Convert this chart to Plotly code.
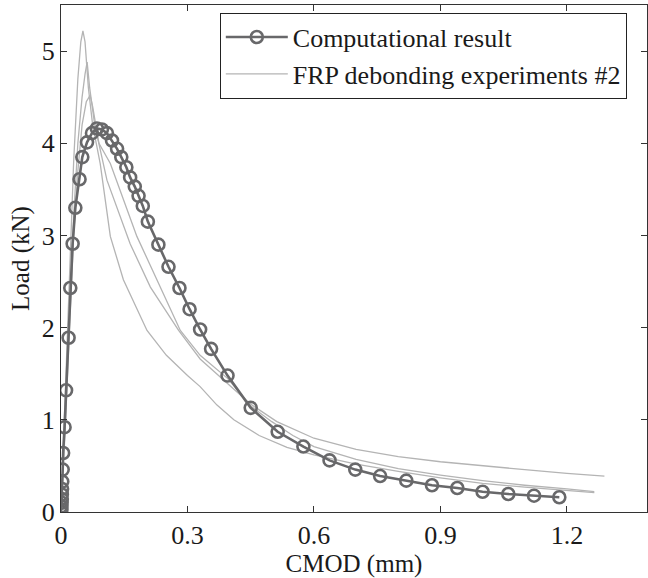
import plotly.graph_objects as go

# Computational result (CMOD mm, Load kN)
comp_x = [0.0, 0.001, 0.001, 0.0015, 0.002, 0.002, 0.0025, 0.003, 0.004, 0.005, 0.0085, 0.012, 0.018,
          0.022, 0.0276, 0.034, 0.044, 0.0505, 0.0617, 0.0735, 0.085, 0.097, 0.109, 0.121, 0.133, 0.143,
          0.155, 0.164, 0.175, 0.184, 0.194, 0.206, 0.231, 0.255, 0.281, 0.305, 0.330, 0.356, 0.395,
          0.450, 0.514, 0.575, 0.637, 0.698, 0.757, 0.819, 0.880, 0.940, 1.000, 1.061, 1.122, 1.182]
comp_y = [0.0, 0.03, 0.06, 0.10, 0.14, 0.19, 0.25, 0.33, 0.46, 0.64, 0.92, 1.32, 1.89,
          2.43, 2.91, 3.30, 3.61, 3.85, 4.01, 4.11, 4.16, 4.15, 4.11, 4.03, 3.94, 3.85,
          3.74, 3.63, 3.53, 3.43, 3.32, 3.15, 2.90, 2.66, 2.43, 2.20, 1.98, 1.77, 1.48,
          1.13, 0.87, 0.71, 0.56, 0.46, 0.39, 0.34, 0.29, 0.26, 0.22, 0.195, 0.177, 0.16]

# FRP debonding experiments #2 (three specimens)
expA_x = [0.0, 0.01, 0.02, 0.03, 0.04, 0.047, 0.052, 0.057, 0.065, 0.075, 0.093, 0.117, 0.148, 0.204,
          0.25, 0.30, 0.33, 0.37, 0.41, 0.47, 0.536, 0.6, 0.7, 0.8, 0.9, 1.0, 1.1, 1.2, 1.265]
expA_y = [0.0, 1.2, 2.6, 3.8, 4.7, 5.1, 5.22, 5.1, 4.6, 4.2, 3.78, 2.99, 2.52, 1.97,
          1.70, 1.48, 1.36, 1.16, 1.00, 0.83, 0.70, 0.62, 0.52, 0.44, 0.37, 0.31, 0.27, 0.235, 0.21]

expB_x = [0.0, 0.01, 0.02, 0.03, 0.04, 0.05, 0.057, 0.062, 0.068, 0.08, 0.109, 0.164, 0.212, 0.279,
          0.33, 0.395, 0.45, 0.512, 0.6, 0.7, 0.8, 0.9, 1.0, 1.1, 1.2, 1.289]
expB_y = [0.0, 1.0, 2.2, 3.2, 4.0, 4.5, 4.75, 4.88, 4.6, 4.2, 3.60, 2.91, 2.44, 1.97,
          1.66, 1.40, 1.17, 0.98, 0.80, 0.68, 0.60, 0.545, 0.50, 0.46, 0.42, 0.39]

expC_x = [0.0, 0.01, 0.02, 0.03, 0.04, 0.05, 0.06, 0.069, 0.075, 0.09, 0.117, 0.18, 0.283,
          0.33, 0.395, 0.45, 0.5, 0.55, 0.6, 0.7, 0.8, 0.9, 1.0, 1.1, 1.2, 1.265]
expC_y = [0.0, 0.9, 2.0, 3.0, 3.7, 4.2, 4.45, 4.52, 4.4, 4.0, 3.78, 2.99, 1.97,
          1.70, 1.45, 1.15, 0.98, 0.83, 0.71, 0.57, 0.47, 0.40, 0.34, 0.29, 0.25, 0.22]

x_ticks = [0, 0.3, 0.6, 0.9, 1.2]
x_ticktext = ["0", "0.3", "0.6", "0.9", "1.2"]
y_ticks = [0, 1, 2, 3, 4, 5]
y_ticktext = ["0", "1", "2", "3", "4", "5"]

FONT = "Liberation Serif, Times New Roman, serif"
exp_color = "#b4b4b4"
comp_color = "#68686a"

fig = go.Figure()
for i, (ex, ey) in enumerate([(expA_x, expA_y), (expB_x, expB_y), (expC_x, expC_y)]):
    fig.add_trace(go.Scatter(
        x=ex, y=ey, mode="lines",
        line=dict(color=exp_color, width=1.3),
        name="FRP debonding experiments #2",
        showlegend=(i == 0), legendrank=2,
    ))
fig.add_trace(go.Scatter(
    x=comp_x, y=comp_y, mode="lines+markers",
    line=dict(color=comp_color, width=2.6),
    marker=dict(symbol="circle-open", size=12, color=comp_color, line=dict(width=2.6, color=comp_color)),
    name="Computational result", legendrank=1,
))

axis_common = dict(
    showline=True, linecolor="#333333", linewidth=1.2, mirror="allticks",
    ticks="inside", ticklen=6, tickcolor="#333333", tickwidth=1,
    showgrid=False, zeroline=False, automargin=False,
    tickfont=dict(family=FONT, size=26, color="#1a1a1a"),
)

fig.update_layout(
    width=648, height=578,
    margin=dict(l=61, r=1, t=5, b=66),
    paper_bgcolor="white", plot_bgcolor="white",
    font=dict(family=FONT, color="#1a1a1a"),
    xaxis=dict(range=[0, 1.39], tickvals=x_ticks, ticktext=x_ticktext,
               title=dict(text="CMOD (mm)", font=dict(family=FONT, size=25), standoff=0),
               **axis_common),
    yaxis=dict(range=[0, 5.5], tickvals=y_ticks, ticktext=y_ticktext,
               title=dict(text="Load (kN)", font=dict(family=FONT, size=25), standoff=4),
               **axis_common),
    legend=dict(x=0.271, y=0.985, xanchor="left", yanchor="top",
                bordercolor="#222222", borderwidth=1, bgcolor="white",
                font=dict(family=FONT, size=26, color="#1a1a1a"),
                itemwidth=62, tracegroupgap=0),
    showlegend=True,
)

fig.write_html("out.html", config={"displayModeBar": False},
               post_script="document.body.style.margin='0';document.body.style.overflow='hidden';")
